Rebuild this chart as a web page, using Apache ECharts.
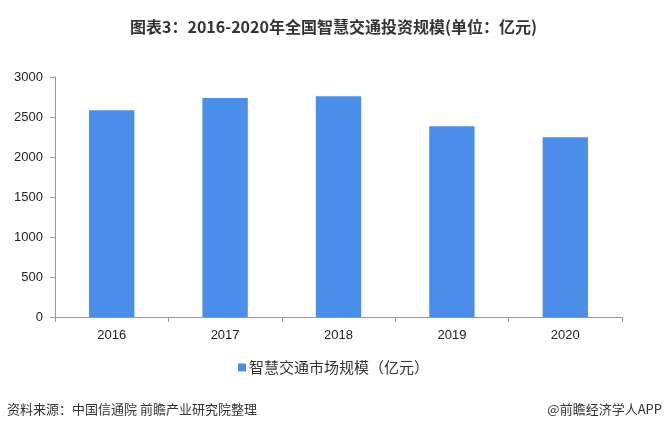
<!DOCTYPE html>
<html><head><meta charset="utf-8">
<script src="https://cdn.jsdelivr.net/npm/echarts@6/dist/echarts.min.js"></script>
<style>html,body{margin:0;padding:0;background:#fff;}#c{width:667px;height:435px;}</style>
</head><body><div id="c"></div>
<script>
const categories = ['2016','2017','2018','2019','2020'];
const values = [2585, 2737, 2760, 2384, 2246];
const seriesName = '智慧交通市场规模（亿元）';
const titleText = '图表3：2016-2020年全国智慧交通投资规模(单位：亿元)';
const sourceText = '资料来源：中国信通院 前瞻产业研究院整理';
const brandText = '@前瞻经济学人APP';

const chart = echarts.init(document.getElementById('c'), null, {renderer:'canvas'});
const font = '"Noto Sans CJK SC", "Noto Sans", sans-serif';
const numFont = '"Liberation Sans", Arial, sans-serif';
chart.setOption({
  backgroundColor:'#fff',
  animation:false,
  title:{text:titleText,left:'center',top:14,textStyle:{fontSize:16,fontWeight:'bold',color:'#333',fontFamily:font}},
  grid:{left:55,right:45,top:77,bottom:118},
  legend:{data:[seriesName],bottom:55,left:'center',itemWidth:8,itemHeight:8,itemGap:4,icon:'rect',
    textStyle:{fontSize:15,color:'#333',fontFamily:font,padding:[0,0,0,-2]}},
  xAxis:{type:'category',data:categories,
    axisLine:{lineStyle:{color:'#999'}},
    axisTick:{show:true,length:5,lineStyle:{color:'#999'}},
    axisLabel:{fontSize:13,color:'#222',margin:12,fontFamily:numFont}},
  yAxis:{type:'value',min:0,max:3000,interval:500,
    axisLine:{show:true,lineStyle:{color:'#999'}},
    axisTick:{show:true,length:5,lineStyle:{color:'#999'}},
    splitLine:{show:false},
    axisLabel:{fontSize:13,color:'#222',margin:12,fontFamily:numFont,formatter:function(v){return String(v);}}},
  series:[{name:seriesName,type:'bar',data:values,barWidth:'40%',itemStyle:{color:'#4a8eea'}}],
  graphic:[
    {type:'text',left:7,top:403,style:{text:sourceText,fontSize:13,fill:'#333',fontFamily:font}},
    {type:'text',right:5,top:403,style:{text:brandText,fontSize:13,fill:'#333',fontFamily:font}}
  ]
});
</script></body></html>
